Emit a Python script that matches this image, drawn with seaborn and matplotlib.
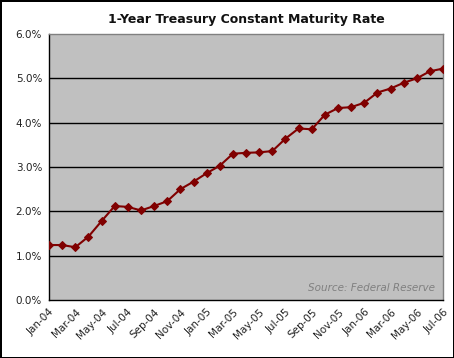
import pandas as pd
import numpy as np
import matplotlib
matplotlib.use("Agg")
import matplotlib.pyplot as plt
import seaborn as sns
from matplotlib.ticker import FuncFormatter

# Data: monthly 1-year treasury constant maturity rate (%)
months = pd.date_range("2004-01-01", "2006-07-01", freq="MS")
rates = [1.24, 1.24, 1.19, 1.43, 1.78, 2.12, 2.10, 2.02, 2.12, 2.23, 2.50, 2.67,
         2.86, 3.03, 3.30, 3.32, 3.33, 3.36, 3.64, 3.87, 3.85, 4.18, 4.33, 4.35,
         4.45, 4.68, 4.77, 4.90, 5.00, 5.16, 5.22]
month_labels = [m.strftime("%b-%y") for m in months]

df = pd.DataFrame({"pos": np.arange(len(rates)), "rate": rates, "month": month_labels})

sns.set_style("white")
plt.rcParams["font.family"] = ["DejaVu Sans"]

fig = plt.figure(figsize=(4.54, 3.58), dpi=100)
fig.patch.set_edgecolor("black")
fig.patch.set_linewidth(2)
ax = fig.add_axes([0.108, 0.162, 0.868, 0.743])
ax.set_facecolor("#C0C0C0")

sns.lineplot(data=df, x="pos", y="rate", ax=ax, color="#800000", linewidth=1.5,
             marker="D", markersize=3.8, markeredgecolor="#800000", zorder=3)

ax.set_xlim(0, len(rates) - 1)
ax.set_ylim(0, 6)
ax.set_yticks(np.arange(0, 7, 1))
ax.yaxis.set_major_formatter(FuncFormatter(lambda v, p: f"{v:.1f}%"))
ax.set_xticks(df["pos"][::2])
ax.set_xticklabels(df["month"][::2], rotation=45, ha="right", rotation_mode="anchor")

for v in range(1, 6):
    ax.axhline(v, color="black", linewidth=1, zorder=1)

ax.tick_params(axis="both", direction="out", length=3, width=1, colors="black",
               labelsize=7.5, labelcolor="#222222", pad=2)
ax.spines["left"].set_color("black")
ax.spines["bottom"].set_color("black")
ax.spines["top"].set_color("#808080")
ax.spines["right"].set_color("#808080")
for s in ax.spines.values():
    s.set_linewidth(1)

ax.set_xlabel("")
ax.set_ylabel("")
ax.set_title("1-Year Treasury Constant Maturity Rate", fontsize=9, fontweight="bold",
             color="#111111", pad=8)

ax.text(0.98, 0.045, "Source: Federal Reserve", transform=ax.transAxes, ha="right",
        va="center", fontsize=7.5, style="italic", color="#808080")

fig.savefig("out.png", dpi=100, edgecolor="black", facecolor="white")
